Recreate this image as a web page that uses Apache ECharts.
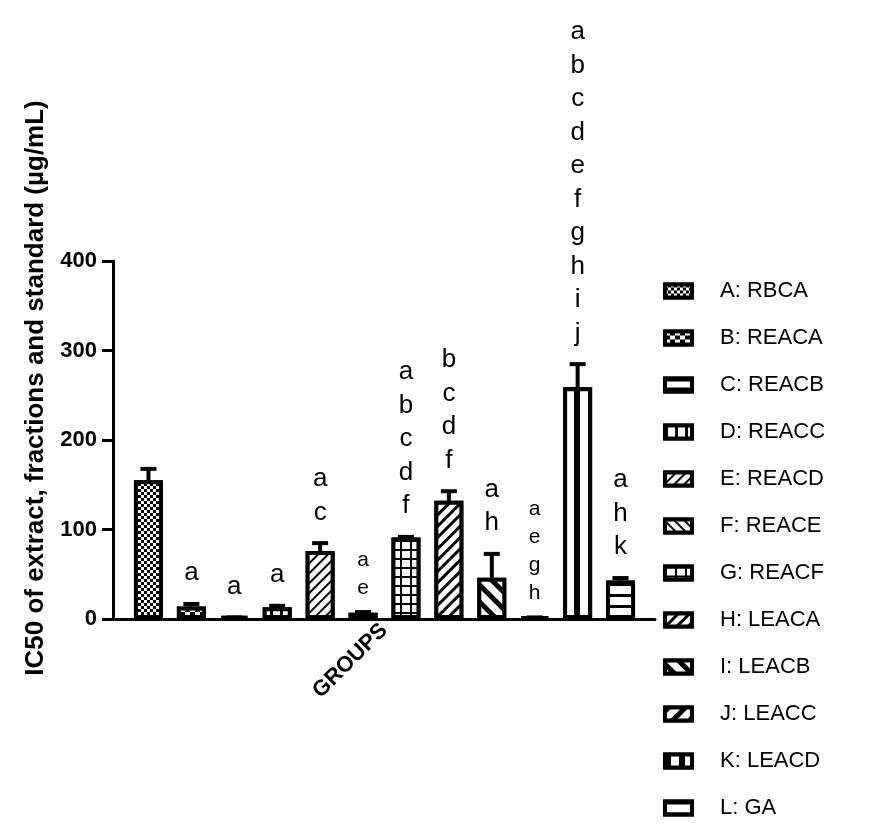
<!DOCTYPE html>
<html>
<head>
<meta charset="utf-8">
<script src="https://cdn.jsdelivr.net/npm/echarts@6/dist/echarts.min.js"></script>
<style>html,body{margin:0;padding:0;background:#fff}#c{width:893px;height:829px}</style>
</head>
<body>
<div id="c"></div>
<script>
const groups = ['A: RBCA','B: REACA','C: REACB','D: REACC','E: REACD','F: REACE','G: REACF','H: LEACA','I: LEACB','J: LEACC','K: LEACD','L: GA'];
const values = [155, 14, 3, 13, 76, 7, 91, 132, 46, 2, 259, 43];
const errors = [15, 5, 1, 4, 11, 3, 3, 13, 29, 2, 28, 5];
const letters = ['', 'a', 'a', 'a', 'a\nc', 'a\ne', 'a\nb\nc\nd\nf', 'b\nc\nd\nf', 'a\nh', 'a\ne\ng\nh', 'a\nb\nc\nd\ne\nf\ng\nh\ni\nj', 'a\nh\nk'];
const yTicks = [0, 100, 200, 300, 400];
const xCategory = ['GROUPS'];
const yTitle = 'IC50 of extract, fractions and standard (µg/mL)';

const FONT = '"Liberation Sans", Arial, Helvetica, sans-serif';
const smallLabel = new Set([5, 9]);

const decals = [
  {dashArrayX: [[3,3],[0,3,3,0]], dashArrayY: [3,0]},               // A checker
  {dashArrayX: [[5,5],[0,5,5,0]], dashArrayY: [4,0]},               // B checker
  {dashArrayX: [[1,0]], dashArrayY: [3,6]},                         // C horiz
  {dashArrayX: [3,7], dashArrayY: [1,0]},                           // D vertical
  {dashArrayX: [[1,0]], dashArrayY: [2,5], rotation: -Math.PI/4},   // E ////
  {dashArrayX: [[1,0]], dashArrayY: [2,5], rotation: Math.PI/4},    // F \\\\
  {dashArrayX: [[1,0],[2,8]], dashArrayY: [2,0,7,0]},               // G grid
  {dashArrayX: [[1,0]], dashArrayY: [3,5], rotation: -Math.PI/4},   // H ////
  {dashArrayX: [[1,0]], dashArrayY: [5,7], rotation: Math.PI/4},    // I \\\\ wide
  {dashArrayX: [[1,0]], dashArrayY: [5,7], rotation: -Math.PI/4},   // J //// wide
  {dashArrayX: [6,8], dashArrayY: [1,0]},                           // K vertical thick
  {dashArrayX: [[1,0]], dashArrayY: [3,8]}                          // L horiz
];

const series = groups.map((g, i) => ({
  name: g,
  type: 'bar',
  xAxisIndex: 1, yAxisIndex: 1,
  stack: 'all',
  barWidth: 29,
  data: groups.map((_, j) => j === i ? values[i] : '-'),
  itemStyle: {
    color: '#fff', borderColor: '#000', borderWidth: 4,
    decal: Object.assign({symbol: 'rect', symbolSize: 1, color: '#000', backgroundColor: '#fff'}, decals[i])
  },
  z: 2
}));

series.push({
  type: 'custom',
  xAxisIndex: 1, yAxisIndex: 1,
  data: values.map((v, i) => [i, v, errors[i]]),
  z: 5,
  renderItem: function (params, api) {
    const i = api.value(0), v = api.value(1), e = api.value(2);
    const base = api.coord([i, v]);
    const top = api.coord([i, v + e]);
    const small = smallLabel.has(i);
    const children = [
      {type: 'line', shape: {x1: base[0], y1: base[1], x2: top[0], y2: top[1] + 2}, style: {stroke: '#000', lineWidth: 4}},
      {type: 'line', shape: {x1: top[0] - 8, y1: top[1] + 2, x2: top[0] + 8, y2: top[1] + 2}, style: {stroke: '#000', lineWidth: 4}}
    ];
    if (letters[i]) {
      children.push({
        type: 'text',
        x: top[0], y: top[1] - (small ? 8 : 12),
        style: {
          text: letters[i], fill: '#000',
          font: (small ? '21px ' : '26px ') + FONT,
          lineHeight: small ? 28 : 33.5,
          align: 'center', verticalAlign: 'bottom'
        }
      });
    }
    return {type: 'group', children: children};
  }
});

const chart = echarts.init(document.getElementById('c'));
chart.setOption({
  backgroundColor: '#fff',
  animation: false,
  grid: [
    {left: 113, top: 261, width: 542, height: 358},
    {left: 127, top: 261, width: 515, height: 358}
  ],
  xAxis: [
    {gridIndex: 0, type: 'category', data: xCategory,
     axisLine: {lineStyle: {color: '#000', width: 3}},
     axisTick: {show: false},
     axisLabel: {rotate: 45, color: '#000', fontFamily: FONT, fontWeight: 'bold', fontSize: 22, margin: 8}},
    {gridIndex: 1, type: 'category', data: groups, show: false}
  ],
  yAxis: [
    {gridIndex: 0, type: 'value', min: 0, max: 400, interval: 100,
     axisLine: {show: true, lineStyle: {color: '#000', width: 3}},
     axisTick: {show: true, length: 11, lineStyle: {color: '#000', width: 3}},
     axisLabel: {color: '#000', fontFamily: FONT, fontWeight: 'bold', fontSize: 22, margin: 16,
                 formatter: v => yTicks.includes(v) ? String(v) : ''},
     splitLine: {show: false}},
    {gridIndex: 1, type: 'value', min: 0, max: 400, show: false, splitLine: {show: false}}
  ],
  legend: {
    orient: 'vertical', left: 658, top: 275,
    itemWidth: 27, itemHeight: 13, itemGap: 25,
    icon: 'rect',
    textStyle: {color: '#000', fontFamily: FONT, fontSize: 22, padding: [0,0,0,23]},
    itemStyle: {borderWidth: 4, borderColor: '#000'},
    data: groups
  },
  graphic: [{
    type: 'text', x: 36, y: 388, rotation: Math.PI / 2,
    style: {text: yTitle, fill: '#000', font: 'bold 26px ' + FONT, align: 'center', verticalAlign: 'middle'}
  }],
  series: series
});
</script>
</body>
</html>
